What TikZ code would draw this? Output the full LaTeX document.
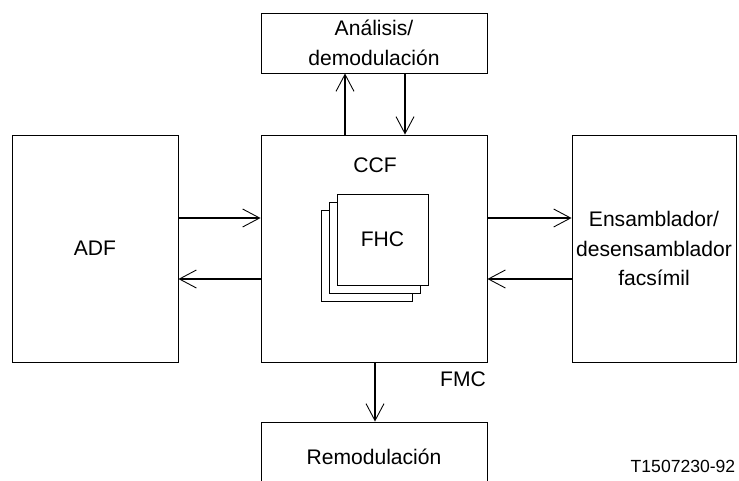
\documentclass[tikz,border=0pt]{standalone}
\usepackage{fontspec}
\setmainfont{Liberation Sans}
\usetikzlibrary{arrows.meta}
\usetikzlibrary{calc}

\begin{document}
\begin{tikzpicture}[x=0.2mm,y=-0.2mm,
	every node/.style={font=\fontsize{12}{17}\selectfont},
	box/.style={draw,line width=0.5pt,inner sep=0pt,align=center,fill=white},
	arr/.style={line width=0.8pt,-{Straight Barb[length=3.4mm,width=3.6mm,line width=0.5pt]}},
	lbl/.style={inner sep=0pt}]
	\useasboundingbox (0,0) rectangle (739,480);
	
	\def\bw{226*0.2mm} % width of the middle column
	\def\fs{91*0.2mm} % size of one FHC sheet
	\def\d{8} % shift of the sheets
	
	% the blocks
	\node[box,minimum width=\bw,minimum height=60*0.2mm] (ana) at (374,43) {Análisis/\\demodulación};
	\node[box,minimum width=\bw,minimum height=227*0.2mm] (ccf) at (374,248.5) {};
	\node[box,minimum width=166*0.2mm,minimum height=227*0.2mm] (adf) at (95,248.5) {ADF};
	\node[box,minimum width=164*0.2mm,minimum height=227*0.2mm] (ens) at (654,248.5) {Ensamblador/\\desensamblador\\facsímil};
	\node[box,minimum width=\bw,minimum height=70*0.2mm] (rem) at (374,457) {Remodulación};
	
	% stack of FHC sheets
	\coordinate (F) at (382.5,239.5);
	\node[box,minimum size=\fs] (fhcb) at ($(F)+(-2*\d,2*\d)$) {};
	\node[box,minimum size=\fs] (fhcm) at ($(F)+(-\d,\d)$) {};
	\node[box,minimum size=\fs] (fhc) at (F) {FHC};
	
	\node[lbl] (ccftxt) at (375,165) {CCF};
	\node[lbl] (fmc) at (463,379) {FMC};
	\node[lbl,font=\fontsize{10}{12}\selectfont] (ref) at (683,466) {T1507230-92};
	
	% connectors
	\coordinate (u) at (345,0);
	\coordinate (v) at (405,0);
	\coordinate (w) at (375,0);
	\coordinate (hi) at (0,218);
	\coordinate (lo) at (0,279);
	\draw[arr] (ccf.north -| u) -- (ana.south -| u);
	\draw[arr] (ana.south -| v) -- (ccf.north -| v);
	\draw[arr] (ccf.south -| w) -- (rem.north -| w);
	\draw[arr] (adf.east |- hi) -- (ccf.west |- hi);
	\draw[arr] (ccf.west |- lo) -- (adf.east |- lo);
	\draw[arr] (ccf.east |- hi) -- (ens.west |- hi);
	\draw[arr] (ens.west |- lo) -- (ccf.east |- lo);
\end{tikzpicture}
\end{document}
